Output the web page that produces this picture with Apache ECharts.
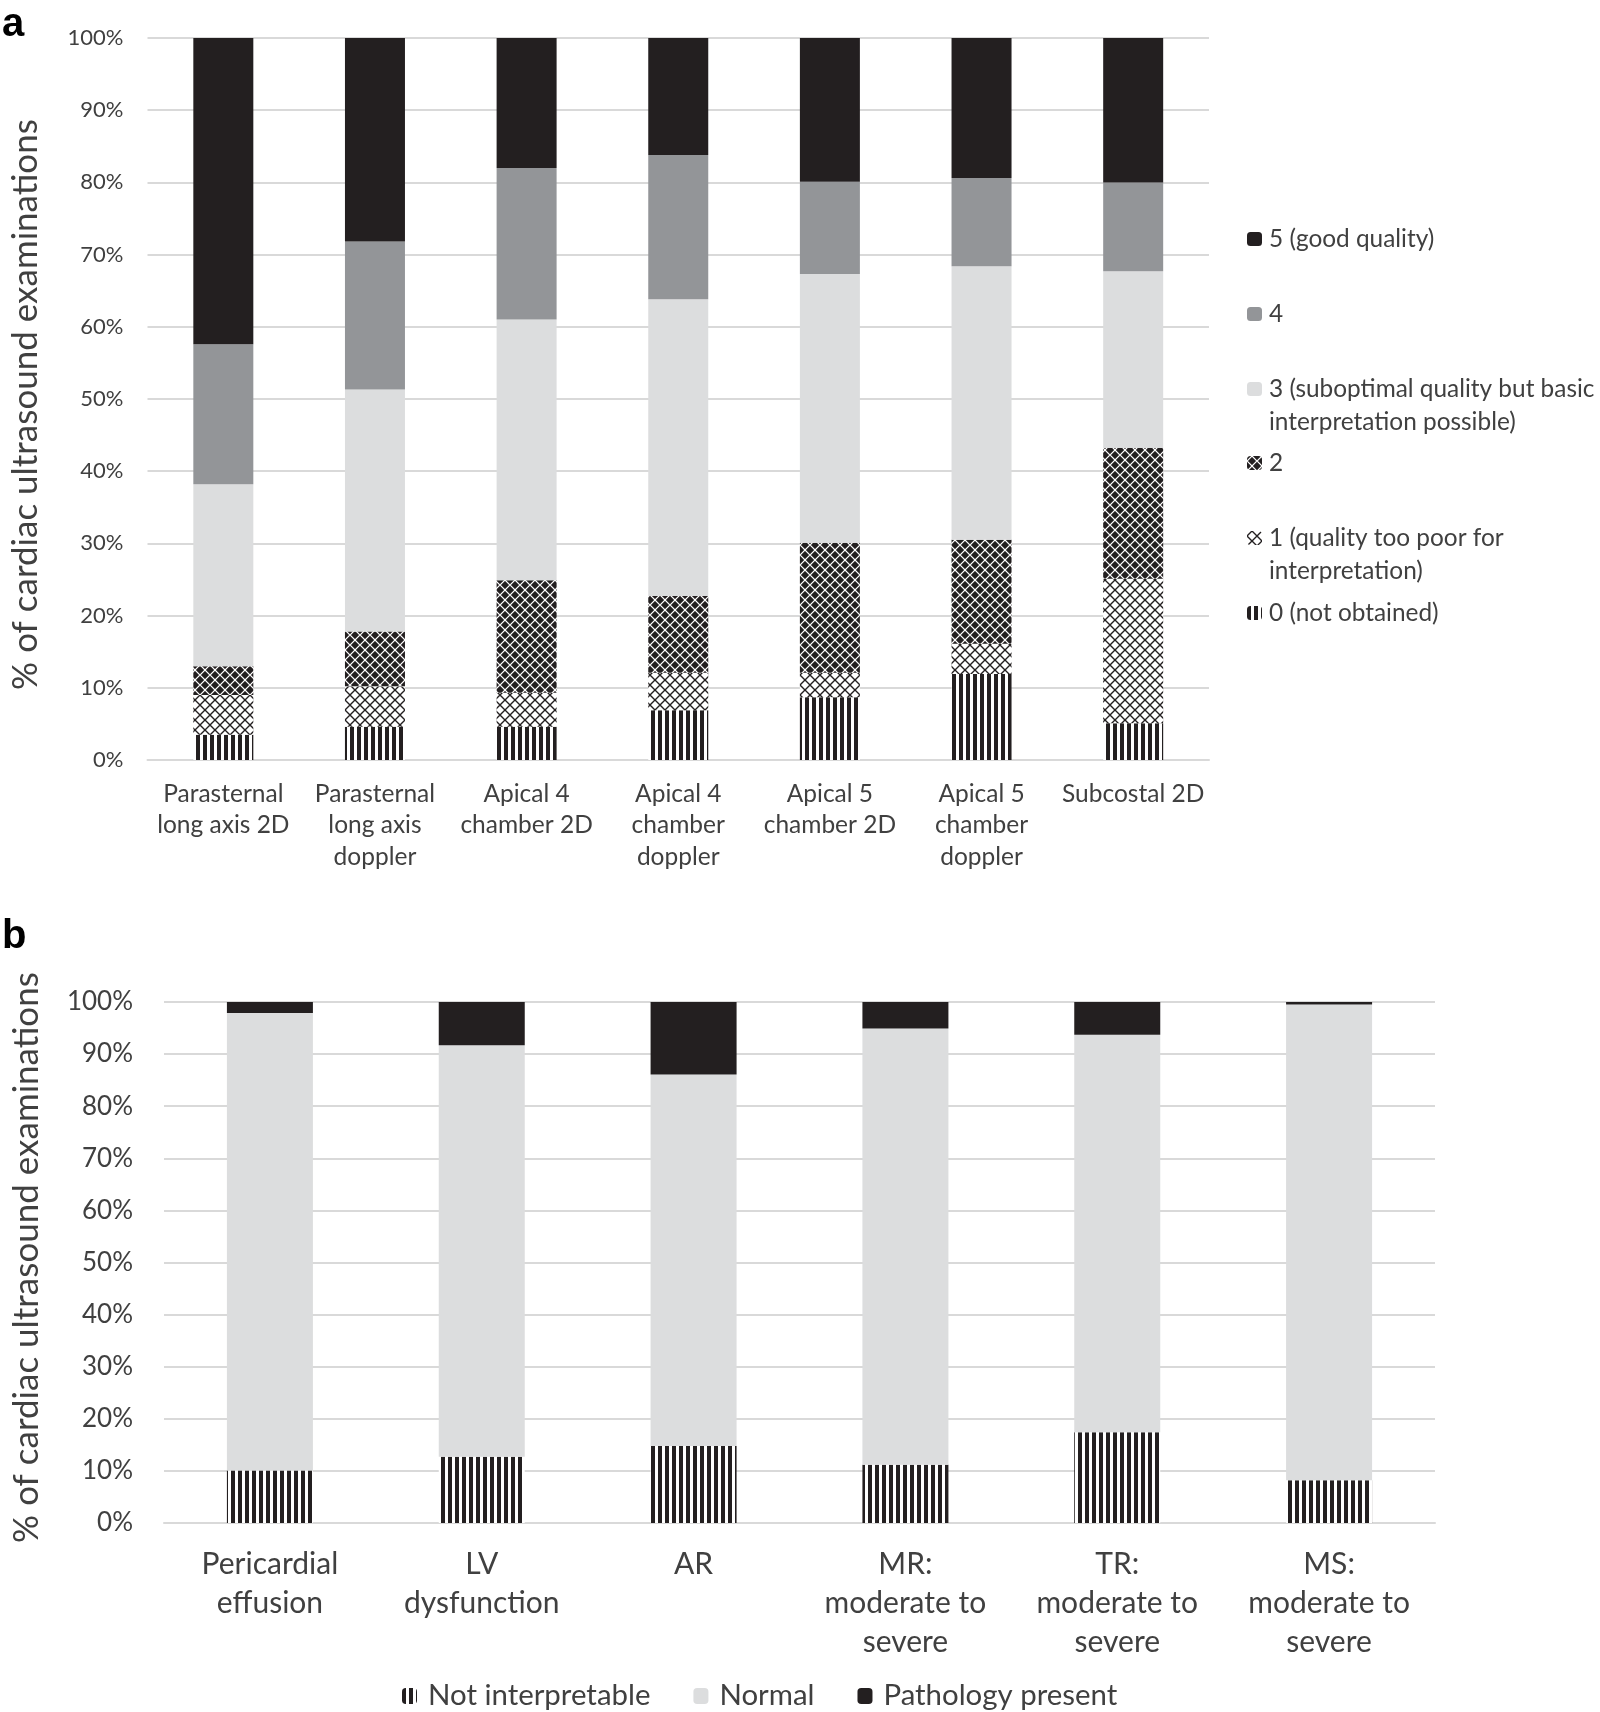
<!DOCTYPE html>
<html><head><meta charset="utf-8">
<script src="https://cdn.jsdelivr.net/npm/echarts@6/dist/echarts.min.js"></script>
<style>html,body{margin:0;padding:0;background:#fff}#c{width:1600px;height:1712px}</style>
</head><body><div id="c"></div>
<script>
// ---------- Panel a data (% of examinations per image-quality grade) ----------
const viewsA = ['Parasternal\nlong axis 2D', 'Parasternal\nlong axis\ndoppler', 'Apical 4\nchamber 2D', 'Apical 4\nchamber\ndoppler', 'Apical 5\nchamber 2D', 'Apical 5\nchamber\ndoppler', 'Subcostal 2D'];
const gradeNames = ['0 (not obtained)', '1 (quality too poor for\ninterpretation)', '2', '3 (suboptimal quality but basic\ninterpretation possible)', '4', '5 (good quality)'];
const grade0 = [3.5, 4.6, 4.6, 6.9, 8.7, 11.9, 5.1];
const grade1 = [5.5, 5.6, 4.7, 5.2, 3.4, 4.2, 20.0];
const grade2 = [4.0, 7.6, 15.6, 10.6, 18.0, 14.4, 18.1];
const grade3 = [25.2, 33.5, 36.1, 41.1, 37.2, 37.9, 24.5];
const grade4 = [19.4, 20.5, 21.0, 20.0, 12.8, 12.2, 12.3];
const grade5 = [42.4, 28.2, 18.0, 16.2, 19.9, 19.4, 20.0];

// ---------- Panel b data (% of examinations per finding) ----------
const findingsB = ['Pericardial\neffusion', 'LV\ndysfunction', 'AR', 'MR:\nmoderate to\nsevere', 'TR:\nmoderate to\nsevere', 'MS:\nmoderate to\nsevere'];
const findingNames = ['Not interpretable', 'Normal', 'Pathology present'];
const notInterpretable = [10.1, 12.7, 14.8, 11.2, 17.4, 8.2];
const normal = [87.8, 79.0, 71.3, 83.7, 76.3, 91.3];
const pathology = [2.1, 8.3, 13.9, 5.1, 6.3, 0.5];

const yMin = 0, yMax = 100, yStep = 10;
const yTitle = '% of cardiac ultrasound examinations';

// ---------- patterns ----------
function makeCanvas(w, h, draw) { const c = document.createElement('canvas'); c.width = w; c.height = h; draw(c.getContext('2d')); return c; }
const INK = '#231f20';
const stripes = makeCanvas(7, 7, g => { g.fillStyle = '#fff'; g.fillRect(0, 0, 7, 7); g.fillStyle = INK; g.fillRect(0, 0, 4, 7); });
function lattice(bg, fg, lw) {
  return makeCanvas(10, 10, g => {
    g.fillStyle = bg; g.fillRect(0, 0, 10, 10);
    g.strokeStyle = fg; g.lineWidth = lw;
    g.beginPath();
    g.moveTo(0, 5); g.lineTo(5, 0); g.lineTo(10, 5); g.lineTo(5, 10); g.closePath();
    g.stroke();
  });
}
const lightLattice = lattice('#fff', INK, 1.4);
const darkLattice = lattice(INK, '#fff', 1.2);
const pat = c => ({ image: c, repeat: 'repeat' });

const gradeColors = [pat(stripes), pat(lightLattice), pat(darkLattice), '#dcddde', '#939598', INK];
const gradeData = [grade0, grade1, grade2, grade3, grade4, grade5];
const findingColors = [pat(stripes), '#dcddde', INK];
const findingData = [notInterpretable, normal, pathology];

const FONT = 'Lato';
const TXT = '#404040';
const GRIDC = '#d9d9d9';

const series = [];
gradeNames.forEach((n, i) => series.push({
  name: n, type: 'bar', stack: 'a', xAxisIndex: 0, yAxisIndex: 0, barWidth: 60,
  itemStyle: { color: gradeColors[i] }, data: gradeData[i]
}));
findingNames.forEach((n, i) => series.push({
  name: n, type: 'bar', stack: 'b', xAxisIndex: 1, yAxisIndex: 1, barWidth: 86,
  itemStyle: { color: findingColors[i] }, data: findingData[i]
}));

// legend for panel a: one legend per item, icon centre y values
const legendACentres = [613, 538, 463, 389, 314, 239];
const legends = gradeNames.map((n, i) => {
  const two = n.indexOf('\n') >= 0;
  return {
    data: [n], orient: 'vertical', left: 1247, top: legendACentres[i] - (two ? 49.5 : 16.5),
    padding: 0, itemWidth: 15, itemHeight: 14, selectedMode: false,
    formatter: nm => (nm.indexOf('\n') >= 0 ? ' \n' + nm : nm),
    textStyle: { fontFamily: FONT, fontSize: 24.4, color: TXT, lineHeight: 33, padding: [0, 0, 0, 2] }
  };
});
legends.push({
  data: findingNames, orient: 'horizontal', left: 402, top: 1678, padding: 0,
  itemWidth: 15, itemHeight: 16, itemGap: 43, selectedMode: false,
  textStyle: { fontFamily: FONT, fontSize: 29.4, color: TXT, lineHeight: 36, padding: [0, 0, 0, 6] }
});

const option = {
  animation: false,
  backgroundColor: '#fff',
  textStyle: { fontFamily: FONT },
  grid: [
    { left: 146, top: 38, width: 1063, height: 722 },
    { left: 164, top: 1002, width: 1271, height: 521 }
  ],
  xAxis: [
    { gridIndex: 0, type: 'category', data: viewsA, axisTick: { show: false },
      axisLine: { lineStyle: { color: GRIDC, width: 2 } },
      axisLabel: { color: TXT, fontFamily: FONT, fontSize: 24.5, lineHeight: 31.5, margin: 18, interval: 0 } },
    { gridIndex: 1, type: 'category', data: findingsB, axisTick: { show: false },
      axisLine: { lineStyle: { color: GRIDC, width: 2 } },
      axisLabel: { color: TXT, fontFamily: FONT, fontSize: 30, lineHeight: 38.8, margin: 22, interval: 0 } }
  ],
  yAxis: [
    { gridIndex: 0, type: 'value', min: yMin, max: yMax, interval: yStep,
      axisLabel: { formatter: '{value}%', color: TXT, fontFamily: FONT, fontSize: 22, margin: 24 },
      splitLine: { lineStyle: { color: GRIDC, width: 2 } }, axisLine: { show: false }, axisTick: { show: false },
      name: yTitle, nameLocation: 'middle', nameGap: 104.5,
      nameTextStyle: { color: TXT, fontFamily: FONT, fontSize: 35, padding: [0, 11, 0, 0] } },
    { gridIndex: 1, type: 'value', min: yMin, max: yMax, interval: yStep,
      axisLabel: { formatter: '{value}%', color: TXT, fontFamily: FONT, fontSize: 26, margin: 31 },
      splitLine: { lineStyle: { color: GRIDC, width: 2 } }, axisLine: { show: false }, axisTick: { show: false },
      name: yTitle, nameLocation: 'middle', nameGap: 119.5,
      nameTextStyle: { color: TXT, fontFamily: FONT, fontSize: 35, padding: [0, 0, 0, 10] } }
  ],
  legend: legends,
  graphic: [
    { type: 'text', left: 2, top: 5, style: { text: 'a', font: 'bold 40px "Liberation Sans"', fill: '#000' } },
    { type: 'text', left: 2, top: 917, style: { text: 'b', font: 'bold 40px "Liberation Sans"', fill: '#000' } }
  ],
  series: series
};
const chart = echarts.init(document.getElementById('c'), null, { renderer: 'canvas' });
chart.setOption(option);
</script>
</body></html>
